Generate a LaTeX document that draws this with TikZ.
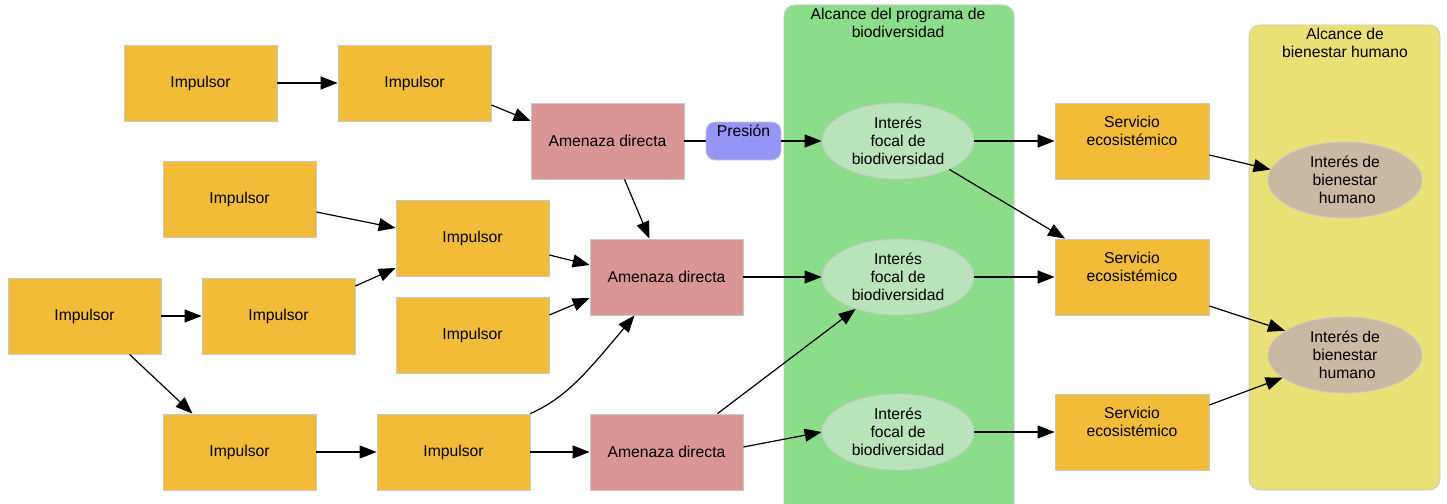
\documentclass[tikz,border=0pt]{standalone}
\usepackage{fontspec}
\setmainfont{Liberation Sans}
\usetikzlibrary{arrows.meta,shapes.geometric}
\definecolor{impulso}{HTML}{F2BC38}
\definecolor{amenaza}{HTML}{DA9595}
\definecolor{presion}{HTML}{9595F8}
\definecolor{panelverde}{HTML}{8BDD8A}
\definecolor{focal}{HTML}{B9E3B8}
\definecolor{panelamarillo}{HTML}{EBE075}
\definecolor{bienestar}{HTML}{CAB9A2}
\definecolor{borde}{HTML}{C8C8C8}
\tikzset{
  base/.style={draw=borde, line width=0.8pt, font=\fontsize{15.7}{18}\selectfont, align=center, inner sep=0pt},
  impulsor/.style={base, rectangle, fill=impulso, minimum width=153pt, minimum height=76pt},
  amenazabox/.style={base, rectangle, fill=amenaza, minimum width=153pt, minimum height=76pt},
  servicio/.style={base, rectangle, fill=impulso, minimum width=154pt, minimum height=76pt},
  presionbox/.style={base, rectangle, rounded corners=9pt, fill=presion, minimum width=75pt, minimum height=38pt},
  focalnode/.style={base, ellipse, fill=focal, minimum width=152pt, minimum height=76pt},
  humano/.style={base, ellipse, fill=bienestar, minimum width=154pt, minimum height=76pt},
  panel/.style={draw=borde, line width=0.8pt, rounded corners=11pt},
  rotulo/.style={font=\fontsize{15.7}{18}\selectfont, align=center, inner sep=0pt},
  flecha/.style={line width=1.2pt, -{Triangle[length=17pt,width=13pt]}},
  linea/.style={line width=1.2pt}
}
\begin{document}
\begin{tikzpicture}[x=1pt,y=-1pt]
\useasboundingbox (0,0) rectangle (1447,503);
\fill[white] (0,0) rectangle (1447,503);

% scope panels
\draw[panel, fill=panelverde] (784,5) rectangle (1014,520);
\node[rotulo] (tverde) at (898,23) {Alcance del programa de\\biodiversidad};
\draw[panel, fill=panelamarillo] (1249,25) rectangle (1440,490);
\node[rotulo] (tamarillo) at (1345,43) {Alcance de\\bienestar humano};

% drivers
\node[impulsor] (i1) at (200.5,83) {Impulsor};
\node[impulsor] (i2) at (414.5,83) {Impulsor};
\node[impulsor] (i3) at (239.5,199) {Impulsor};
\node[impulsor] (i4) at (472.5,238) {Impulsor};
\node[impulsor] (i5) at (84.5,316) {Impulsor};
\node[impulsor] (i6) at (278.5,316) {Impulsor};
\node[impulsor] (i7) at (472.5,335) {Impulsor};
\node[impulsor] (i8) at (239.5,452) {Impulsor};
\node[impulsor] (i9) at (453.5,452) {Impulsor};

% direct threats
\node[amenazabox] (a1) at (607.5,141) {Amenaza directa};
\node[amenazabox] (a2) at (666.5,277) {Amenaza directa};
\node[amenazabox] (a3) at (666.5,452) {Amenaza directa};

% pressure
\node[presionbox] (p1) at (743.5,141) {};
\node[rotulo] (p1t) at (743.5,131) {Presión};

% focal biodiversity targets
\node[focalnode] (b1) at (898,141) {Interés\\focal de\\biodiversidad};
\node[focalnode] (b2) at (898,277) {Interés\\focal de\\biodiversidad};
\node[focalnode] (b3) at (898,432) {Interés\\focal de\\biodiversidad};

% ecosystem services
\node[servicio] (s1) at (1132,141) {};
\node[rotulo] (s1t) at (1132,131) {Servicio\\ecosistémico};
\node[servicio] (s2) at (1132,277) {};
\node[rotulo] (s2t) at (1132,267) {Servicio\\ecosistémico};
\node[servicio] (s3) at (1132,432) {};
\node[rotulo] (s3t) at (1132,422) {Servicio\\ecosistémico};

% human wellbeing targets
\node[humano] (h1) at (1345,180) {Interés de\\bienestar\\\ humano};
\node[humano] (h2) at (1345,355) {Interés de\\bienestar\\\ humano};

% connectors
\draw[flecha] (i1.east) -- (i2.west);
\draw[flecha] ([yshift=-22pt]i2.east) -- ([yshift=20pt]a1.west);
\draw[linea] (a1.east) -- (p1.west);
\draw[flecha] (p1.east) -- (b1.west);
\draw[flecha] ([xshift=17pt]a1.south) -- ([xshift=-17pt]a2.north);
\draw[flecha] ([yshift=-13pt]i3.east) -- ([yshift=10pt]i4.west);
\draw[flecha] ([yshift=-17pt]i4.east) -- ([yshift=12pt]a2.west);
\draw[flecha] (i5.east) -- (i6.west);
\draw[flecha] ([yshift=30pt]i6.east) -- ([yshift=-30pt]i4.west);
\draw[flecha] ([yshift=20pt]i7.east) -- ([yshift=-21pt]a2.west);
\draw[flecha] ([xshift=45pt]i5.south) -- ([xshift=-47pt]i8.north);
\draw[flecha] (i8.east) -- (i9.west);
\draw[flecha] (i9.north east) .. controls (565,398) and (585,375) .. ([xshift=-32pt]a2.south);
\draw[flecha] (i9.east) -- (a3.west);
\draw[flecha] (a2.east) -- (b2.west);
\draw[flecha] ([yshift=5pt]a3.east) -- (b3.west);
\draw[flecha] ([xshift=51pt]a3.north) -- (b2.-143);
\draw[flecha] (b1.east) -- (s1.west);
\draw[flecha] (b1.-29) -- ([xshift=-67pt]s2.north);
\draw[flecha] (b2.east) -- (s2.west);
\draw[flecha] (b3.east) -- (s3.west);
\draw[flecha] ([yshift=-14pt]s1.east) -- (h1.172);
\draw[flecha] ([yshift=-29pt]s2.east) -- (h2.158);
\draw[flecha] ([yshift=27pt]s3.east) -- (h2.200);
\end{tikzpicture}
\end{document}
